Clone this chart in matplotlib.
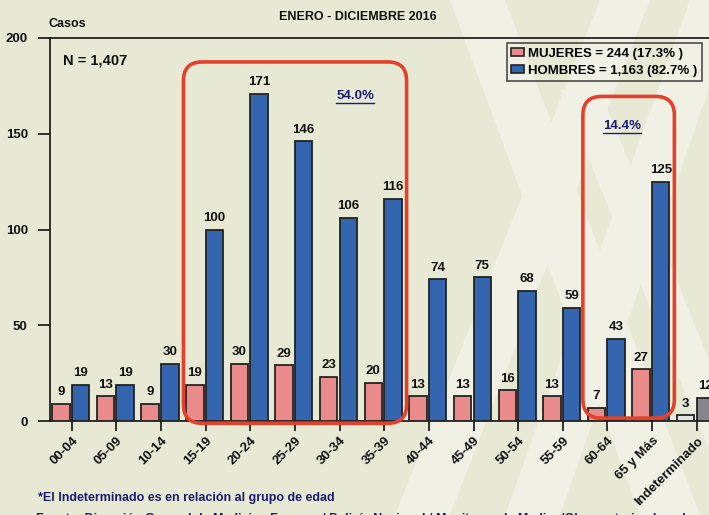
import matplotlib
matplotlib.use("Agg")
import matplotlib.pyplot as plt
import numpy as np
from matplotlib.patches import FancyBboxPatch, Polygon, Patch
from matplotlib.lines import Line2D

plt.rcParams['font.family'] = ['Liberation Sans Narrow', 'Liberation Sans', 'DejaVu Sans']
plt.rcParams['font.weight'] = 'bold'

categories = ['00-04', '05-09', '10-14', '15-19', '20-24', '25-29', '30-34', '35-39',
              '40-44', '45-49', '50-54', '55-59', '60-64', '65 y Más', 'Indeterminado']
mujeres = [9, 13, 9, 19, 30, 29, 23, 20, 13, 13, 16, 13, 7, 27, 3]
hombres = [19, 19, 30, 100, 171, 146, 106, 116, 74, 75, 68, 59, 43, 125, 12]
legend_labels = ['MUJERES = 244 (17.3% )', 'HOMBRES = 1,163 (82.7% )']
yticks = [0, 50, 100, 150, 200]
title = 'ENERO - DICIEMBRE 2016'
total_label = 'N = 1,407'
pct_labels = ['54.0%', '14.4%']
footnote = '*El Indeterminado es en relación al grupo de edad'
source = 'Fuente: Dirección General de Medicina Forense / Policía Nacional / Monitoreo de Medios/Observatorios Locales'

BG = '#e7e9d5'
PINK = '#e98a8b'
BLUE = '#3366ae'
NAVY = '#1c1c70'
RED = '#e5402a'

W, H = 709, 515
fig = plt.figure(figsize=(W / 100, H / 100), dpi=100, facecolor=BG)

# background watermark
bg = fig.add_axes([0, 0, 1, 1], zorder=-5)
bg.set_xlim(0, W)
bg.set_ylim(H, 0)
bg.axis('off')
light = '#f0f1e4'
for poly in [
    [(450, 0), (505, 0), (700, 515), (640, 515)],
    [(600, 0), (650, 0), (450, 515), (395, 515)],
    [(690, 0), (740, 0), (560, 515), (505, 515)],
    [(560, 90), (600, 90), (709, 360), (709, 450)],
]:
    bg.add_patch(Polygon(poly, closed=True, facecolor=light, edgecolor='none'))

ax = fig.add_axes([50 / W, 1 - 421 / H, 669 / W, 383 / H])
ax.set_facecolor('none')

x = np.arange(len(categories))
bw = 0.39
pink_colors = [PINK] * (len(categories) - 1) + ['#e2e2e2']
blue_colors = [BLUE] * (len(categories) - 1) + ['#85858d']
ax.bar(x - 0.245, mujeres, bw, color=pink_colors, edgecolor='#222222', linewidth=1.3, zorder=3)
ax.bar(x + 0.195, hombres, bw, color=blue_colors, edgecolor='#222222', linewidth=1.3, zorder=3)

for xi, v in zip(x, mujeres):
    ax.annotate(str(v), (xi - 0.245, v), xytext=(0, 4), textcoords='offset points',
                ha='center', va='bottom', fontsize=9.5, fontweight='bold', color='#111111', zorder=5)
for xi, v in zip(x, hombres):
    ax.annotate(str(v), (xi + 0.195, v), xytext=(0, 4), textcoords='offset points',
                ha='center', va='bottom', fontsize=9.5, fontweight='bold', color='#111111', zorder=5)

ax.set_xlim(-0.49, len(categories) - 0.5)
ax.set_ylim(0, 200)
ax.set_yticks(yticks)
ax.set_yticklabels([str(t) for t in yticks], fontsize=9.5, fontweight='bold')
ax.set_xticks(x)
ax.set_xticklabels(categories, rotation=45, ha='right', rotation_mode='anchor',
                   fontsize=9.5, fontweight='bold')
ax.tick_params(axis='y', direction='out', length=9, width=1.2, pad=7, colors='#111111')
ax.tick_params(axis='x', direction='out', length=7, width=1.2, pad=3, colors='#111111')
for s in ['left', 'bottom', 'top']:
    ax.spines[s].set_linewidth(1.2)
    ax.spines[s].set_color('#111111')
ax.spines['right'].set_visible(False)

# highlight boxes
def rbox(x0, x1, y0, y1):
    p = FancyBboxPatch((x0, y0), x1 - x0, y1 - y0,
                       boxstyle='round,pad=0,rounding_size=0.42',
                       mutation_aspect=23.3, facecolor='none', edgecolor=RED,
                       linewidth=2.6, zorder=6, clip_on=False)
    ax.add_patch(p)

rbox(2.5, 7.5, -1.2, 187.5)
rbox(11.45, 13.5, 1.5, 169.5)

# percentage labels with underline
t1 = ax.text(6.35, 169.5, pct_labels[0], ha='center', va='center', fontsize=9.5,
             fontweight='bold', color=NAVY, zorder=7)
t2 = ax.text(12.32, 154, pct_labels[1], ha='center', va='center', fontsize=9.5,
             fontweight='bold', color=NAVY, zorder=7)

ax.text(0.019, 0.94, total_label, transform=ax.transAxes, ha='left', va='center',
        fontsize=10.5, fontweight='bold', color='#111111')

leg_handles = [Patch(facecolor=PINK, edgecolor='#222222', linewidth=1.2),
               Patch(facecolor=BLUE, edgecolor='#222222', linewidth=1.2)]
leg = ax.legend(leg_handles, legend_labels, loc='upper right', bbox_to_anchor=(0.975, 0.986),
                borderaxespad=0, frameon=True, fancybox=False, edgecolor='#222222',
                facecolor='none', handlelength=1.0, handleheight=0.55, handletextpad=0.3,
                labelspacing=0.35, borderpad=0.35, prop={'weight': 'bold', 'size': 9.5})
leg.get_frame().set_linewidth(1.2)
leg.set_zorder(8)

fig.text(358 / W, 1 - 17 / H, title, ha='center', va='center', fontsize=9, fontweight='bold',
         color='#111111')
fig.text(48 / W, 1 - 24 / H, 'Casos', ha='left', va='center', fontsize=9, fontweight='bold',
         color='#111111')
fig.text(38 / W, 1 - 498 / H, footnote, ha='left', va='center', fontsize=9, fontweight='bold',
         color=NAVY)
fig.text(36 / W, 1 - 519 / H, source, ha='left', va='center', fontsize=9, fontweight='bold',
         color=NAVY)

fig.canvas.draw()
r = fig.canvas.get_renderer()
for t in (t1, t2):
    bb = t.get_window_extent(r)
    fig.add_artist(Line2D([bb.x0 / W, bb.x1 / W], [(bb.y0 - 1) / H, (bb.y0 - 1) / H],
                          transform=fig.transFigure, color=NAVY, linewidth=1.0, zorder=9))

fig.savefig('out.png', dpi=100, facecolor=BG)
